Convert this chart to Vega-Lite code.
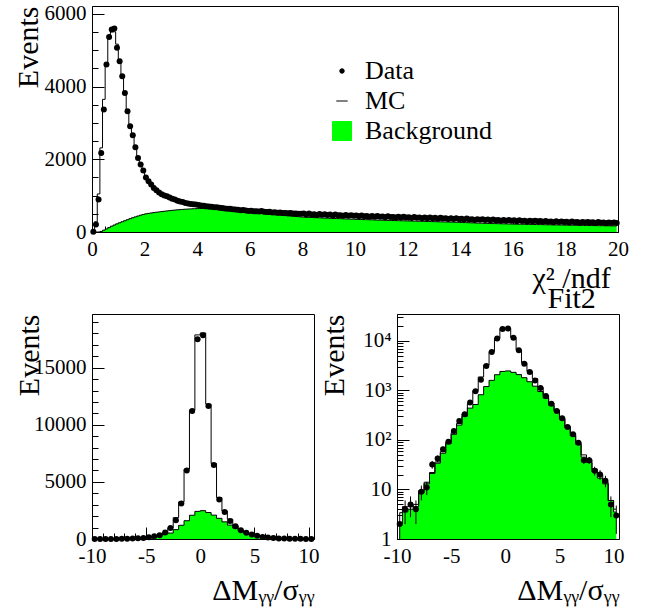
{
"$schema": "https://vega.github.io/schema/vega-lite/v6.json",
"background": "white",
"padding": {"left": 12, "top": 2, "right": 5, "bottom": 3},
"config": {
  "font": "Liberation Serif",
  "view": {"stroke": "black", "strokeWidth": 1},
  "axis": {"labelFont": "Liberation Serif", "labelFontSize": 21, "labelColor": "black", "titleFont": "Liberation Serif", "titleFontSize": 30, "titleFontWeight": "normal", "titleColor": "black", "tickColor": "black", "domainColor": "black", "grid": false, "labelFlush": false, "labelOverlap": false, "zindex": 1, "format": "d"},
  "legend": {"labelFont": "Liberation Serif", "labelFontSize": 26, "labelColor": "black"}
},
"datasets": {
"top": [
{"x":0.05,"d":10,"m":40,"b":0},{"x":0.15,"d":204,"m":280,"b":0},{"x":0.25,"d":893,"m":1047,"b":0},{"x":0.35,"d":2177,"m":2315,"b":15},{"x":0.45,"d":3372,"m":3650,"b":50},{"x":0.55,"d":4611,"m":4620,"b":85},{"x":0.65,"d":5364,"m":5390,"b":122},{"x":0.75,"d":5576,"m":5510,"b":160},{"x":0.85,"d":5603,"m":5510,"b":192},{"x":0.95,"d":5069,"m":5170,"b":224},
{"x":1.05,"d":4702,"m":4750,"b":254},{"x":1.15,"d":4289,"m":4310,"b":282},{"x":1.25,"d":3829,"m":3820,"b":310},{"x":1.35,"d":3325,"m":3360,"b":338},{"x":1.45,"d":2912,"m":2950,"b":366},{"x":1.55,"d":2664,"m":2640,"b":392},{"x":1.65,"d":2333,"m":2350,"b":416},{"x":1.75,"d":2039,"m":2060,"b":440},{"x":1.85,"d":1856,"m":1860,"b":462},{"x":1.95,"d":1691,"m":1680,"b":482},
{"x":2.05,"d":1500,"m":1510,"b":500},{"x":2.15,"d":1400,"m":1390,"b":512},{"x":2.25,"d":1305,"m":1300,"b":523},{"x":2.35,"d":1212,"m":1225,"b":534},{"x":2.45,"d":1150,"m":1160,"b":544},{"x":2.55,"d":1085,"m":1095,"b":553},{"x":2.65,"d":1040,"m":1045,"b":562},{"x":2.75,"d":1005,"m":1005,"b":571},{"x":2.85,"d":983,"m":975,"b":580},{"x":2.95,"d":950,"m":945,"b":588},
{"x":3.05,"d":912,"m":918,"b":596},{"x":3.15,"d":892,"m":893,"b":603},{"x":3.25,"d":862,"m":870,"b":610},{"x":3.35,"d":838,"m":850,"b":616},{"x":3.45,"d":826,"m":830,"b":622},{"x":3.55,"d":800,"m":812,"b":627},{"x":3.65,"d":785,"m":796,"b":632},{"x":3.75,"d":771,"m":781,"b":636},{"x":3.85,"d":762,"m":767,"b":640},{"x":3.95,"d":754,"m":754,"b":643},
{"x":4.05,"d":742,"m":742,"b":645},{"x":4.15,"d":727,"m":731,"b":646},{"x":4.25,"d":722,"m":720,"b":645},{"x":4.35,"d":708,"m":710,"b":642},{"x":4.45,"d":700,"m":700,"b":638},{"x":4.55,"d":696,"m":691,"b":633},{"x":4.65,"d":680,"m":682,"b":627},{"x":4.75,"d":684,"m":674,"b":620},{"x":4.85,"d":668,"m":666,"b":613},{"x":4.95,"d":661,"m":658,"b":605},
{"x":5.05,"d":650,"m":650,"b":598},{"x":5.15,"d":643,"m":643,"b":591},{"x":5.25,"d":640,"m":636,"b":584},{"x":5.35,"d":625,"m":629,"b":577},{"x":5.45,"d":617,"m":622,"b":570},{"x":5.55,"d":610,"m":615,"b":563},{"x":5.65,"d":598,"m":608,"b":556},{"x":5.75,"d":605,"m":602,"b":549},{"x":5.85,"d":590,"m":596,"b":542},{"x":5.95,"d":578,"m":590,"b":535},
{"x":6.05,"d":585,"m":584,"b":529},{"x":6.15,"d":573,"m":578,"b":523},{"x":6.25,"d":570,"m":572,"b":517},{"x":6.35,"d":566,"m":567,"b":511},{"x":6.45,"d":575,"m":562,"b":505},{"x":6.55,"d":558,"m":557,"b":499},{"x":6.65,"d":552,"m":552,"b":493},{"x":6.75,"d":560,"m":548,"b":487},{"x":6.85,"d":540,"m":544,"b":481},{"x":6.95,"d":545,"m":540,"b":475},
{"x":7.05,"d":532,"m":536,"b":469},{"x":7.15,"d":538,"m":532,"b":463},{"x":7.25,"d":524,"m":528,"b":457},{"x":7.35,"d":526,"m":524,"b":451},{"x":7.45,"d":515,"m":520,"b":445},{"x":7.55,"d":520,"m":516,"b":439},{"x":7.65,"d":508,"m":512,"b":433},{"x":7.75,"d":512,"m":508,"b":427},{"x":7.85,"d":500,"m":504,"b":421},{"x":7.95,"d":505,"m":500,"b":415},
{"x":8.05,"d":507,"m":499,"b":409},{"x":8.15,"d":484,"m":496,"b":405},{"x":8.25,"d":508,"m":493,"b":402},{"x":8.35,"d":485,"m":490,"b":400},{"x":8.45,"d":491,"m":488,"b":396},{"x":8.55,"d":471,"m":485,"b":392},{"x":8.65,"d":492,"m":482,"b":390},{"x":8.75,"d":472,"m":479,"b":386},{"x":8.85,"d":488,"m":476,"b":383},{"x":8.95,"d":470,"m":473,"b":380},
{"x":9.05,"d":479,"m":471,"b":377},{"x":9.15,"d":456,"m":468,"b":374},{"x":9.25,"d":481,"m":466,"b":372},{"x":9.35,"d":458,"m":463,"b":369},{"x":9.45,"d":463,"m":460,"b":366},{"x":9.55,"d":444,"m":458,"b":363},{"x":9.65,"d":465,"m":455,"b":360},{"x":9.75,"d":446,"m":453,"b":357},{"x":9.85,"d":462,"m":450,"b":354},{"x":9.95,"d":444,"m":447,"b":351},
{"x":10.05,"d":453,"m":445,"b":349},{"x":10.15,"d":431,"m":443,"b":346},{"x":10.25,"d":455,"m":440,"b":344},{"x":10.35,"d":433,"m":438,"b":341},{"x":10.45,"d":438,"m":435,"b":339},{"x":10.55,"d":419,"m":433,"b":336},{"x":10.65,"d":440,"m":430,"b":334},{"x":10.75,"d":421,"m":428,"b":331},{"x":10.85,"d":438,"m":426,"b":329},{"x":10.95,"d":420,"m":423,"b":326},
{"x":11.05,"d":429,"m":421,"b":324},{"x":11.15,"d":407,"m":419,"b":322},{"x":11.25,"d":432,"m":417,"b":320},{"x":11.35,"d":410,"m":415,"b":318},{"x":11.45,"d":416,"m":413,"b":316},{"x":11.55,"d":397,"m":411,"b":314},{"x":11.65,"d":419,"m":409,"b":312},{"x":11.75,"d":400,"m":407,"b":310},{"x":11.85,"d":417,"m":405,"b":308},{"x":11.95,"d":400,"m":403,"b":306},
{"x":12.05,"d":409,"m":401,"b":304},{"x":12.15,"d":387,"m":399,"b":302},{"x":12.25,"d":412,"m":397,"b":300},{"x":12.35,"d":390,"m":395,"b":298},{"x":12.45,"d":396,"m":393,"b":296},{"x":12.55,"d":377,"m":391,"b":294},{"x":12.65,"d":399,"m":389,"b":292},{"x":12.75,"d":380,"m":387,"b":290},{"x":12.85,"d":397,"m":385,"b":288},{"x":12.95,"d":380,"m":383,"b":286},
{"x":13.05,"d":389,"m":381,"b":284},{"x":13.15,"d":367,"m":379,"b":282},{"x":13.25,"d":392,"m":377,"b":280},{"x":13.35,"d":370,"m":375,"b":278},{"x":13.45,"d":376,"m":373,"b":276},{"x":13.55,"d":357,"m":371,"b":274},{"x":13.65,"d":379,"m":369,"b":272},{"x":13.75,"d":360,"m":367,"b":270},{"x":13.85,"d":377,"m":365,"b":268},{"x":13.95,"d":360,"m":363,"b":266},
{"x":14.05,"d":368,"m":360,"b":263},{"x":14.15,"d":345,"m":357,"b":260},{"x":14.25,"d":370,"m":355,"b":258},{"x":14.35,"d":347,"m":352,"b":255},{"x":14.45,"d":352,"m":349,"b":252},{"x":14.55,"d":333,"m":347,"b":249},{"x":14.65,"d":354,"m":344,"b":246},{"x":14.75,"d":334,"m":341,"b":244},{"x":14.85,"d":351,"m":339,"b":241},{"x":14.95,"d":333,"m":336,"b":238},
{"x":15.05,"d":342,"m":334,"b":236},{"x":15.15,"d":320,"m":332,"b":234},{"x":15.25,"d":345,"m":330,"b":232},{"x":15.35,"d":323,"m":328,"b":231},{"x":15.45,"d":329,"m":326,"b":229},{"x":15.55,"d":310,"m":324,"b":227},{"x":15.65,"d":331,"m":321,"b":225},{"x":15.75,"d":312,"m":319,"b":224},{"x":15.85,"d":329,"m":317,"b":222},{"x":15.95,"d":312,"m":315,"b":220},
{"x":16.05,"d":321,"m":313,"b":218},{"x":16.15,"d":299,"m":311,"b":217},{"x":16.25,"d":324,"m":309,"b":215},{"x":16.35,"d":302,"m":307,"b":213},{"x":16.45,"d":308,"m":305,"b":212},{"x":16.55,"d":290,"m":304,"b":210},{"x":16.65,"d":312,"m":302,"b":209},{"x":16.75,"d":293,"m":300,"b":207},{"x":16.85,"d":310,"m":298,"b":206},{"x":16.95,"d":293,"m":296,"b":204},
{"x":17.05,"d":302,"m":294,"b":203},{"x":17.15,"d":280,"m":292,"b":202},{"x":17.25,"d":305,"m":290,"b":200},{"x":17.35,"d":284,"m":289,"b":199},{"x":17.45,"d":290,"m":287,"b":197},{"x":17.55,"d":271,"m":285,"b":196},{"x":17.65,"d":293,"m":283,"b":195},{"x":17.75,"d":274,"m":281,"b":193},{"x":17.85,"d":292,"m":280,"b":192},{"x":17.95,"d":275,"m":278,"b":191},
{"x":18.05,"d":284,"m":276,"b":189},{"x":18.15,"d":263,"m":275,"b":188},{"x":18.25,"d":288,"m":273,"b":187},{"x":18.35,"d":267,"m":272,"b":186},{"x":18.45,"d":273,"m":270,"b":184},{"x":18.55,"d":255,"m":269,"b":183},{"x":18.65,"d":277,"m":267,"b":182},{"x":18.75,"d":259,"m":266,"b":181},{"x":18.85,"d":276,"m":264,"b":179},{"x":18.95,"d":260,"m":263,"b":178},
{"x":19.05,"d":269,"m":261,"b":177},{"x":19.15,"d":248,"m":260,"b":176},{"x":19.25,"d":274,"m":259,"b":175},{"x":19.35,"d":252,"m":257,"b":174},{"x":19.45,"d":259,"m":256,"b":173},{"x":19.55,"d":241,"m":255,"b":172},{"x":19.65,"d":263,"m":253,"b":170},{"x":19.75,"d":245,"m":252,"b":169},{"x":19.85,"d":263,"m":251,"b":168},{"x":19.95,"d":246,"m":249,"b":167}
],
"bot": [
{"x":-9.75,"d":2,"m":3.4,"b":2,"lo":0.59,"hi":3.41},{"x":-9.25,"d":4,"m":4.5,"b":3.5,"lo":2,"hi":6},{"x":-8.75,"d":5,"m":4.5,"b":4,"lo":2.76,"hi":7.24},{"x":-8.25,"d":4,"m":5,"b":4.5,"lo":2,"hi":6},{"x":-7.75,"d":9,"m":9.5,"b":8.5,"lo":6,"hi":12},{"x":-7.25,"d":11,"m":14,"b":13,"lo":7.7,"hi":14.3},{"x":-6.75,"d":32,"m":22,"b":21,"lo":26.3,"hi":37.7},{"x":-6.25,"d":42,"m":36,"b":34,"lo":35.5,"hi":48.5},{"x":-5.75,"d":65,"m":58,"b":54,"lo":56.9,"hi":73.1},{"x":-5.25,"d":92,"m":90,"b":84,"lo":82.4,"hi":101.6},
{"x":-4.75,"d":152,"m":140,"b":130,"lo":139.7,"hi":164.3},{"x":-4.25,"d":241,"m":215,"b":200,"lo":225.5,"hi":256.5},{"x":-3.75,"d":330,"m":335,"b":300,"lo":311.8,"hi":348.2},{"x":-3.25,"d":570,"m":540,"b":440,"lo":546,"hi":594},{"x":-2.75,"d":960,"m":990,"b":520,"lo":929,"hi":991},{"x":-2.25,"d":1650,"m":1870,"b":820,"lo":1609,"hi":1691},{"x":-1.75,"d":3100,"m":3250,"b":1200,"lo":3044,"hi":3156},{"x":-1.25,"d":6000,"m":6110,"b":1600,"lo":5922,"hi":6078},{"x":-0.75,"d":11200,"m":11290,"b":2080,"lo":11094,"hi":11306},{"x":-0.25,"d":17500,"m":17870,"b":2420,"lo":17368,"hi":17632},
{"x":0.25,"d":17850,"m":18040,"b":2480,"lo":17716,"hi":17984},{"x":0.75,"d":11650,"m":11810,"b":2320,"lo":11542,"hi":11758},{"x":1.25,"d":6480,"m":6610,"b":2090,"lo":6400,"hi":6560},{"x":1.75,"d":3450,"m":3620,"b":1810,"lo":3391,"hi":3509},{"x":2.25,"d":2370,"m":2450,"b":1500,"lo":2321,"hi":2419},{"x":2.75,"d":1580,"m":1730,"b":1220,"lo":1540,"hi":1620},{"x":3.25,"d":1120,"m":1150,"b":950,"lo":1086,"hi":1154},{"x":3.75,"d":770,"m":790,"b":700,"lo":742,"hi":798},{"x":4.25,"d":540,"m":560,"b":500,"lo":517,"hi":563},{"x":4.75,"d":385,"m":400,"b":380,"lo":365,"hi":405},
{"x":5.25,"d":275,"m":280,"b":265,"lo":258,"hi":292},{"x":5.75,"d":183,"m":190,"b":175,"lo":169.5,"hi":196.5},{"x":6.25,"d":130,"m":135,"b":122,"lo":118.6,"hi":141.4},{"x":6.75,"d":88,"m":90,"b":82,"lo":78.6,"hi":97.4},{"x":7.25,"d":39,"m":50,"b":45,"lo":32.8,"hi":45.2},{"x":7.75,"d":39,"m":40,"b":35,"lo":32.8,"hi":45.2},{"x":8.25,"d":24,"m":26,"b":23,"lo":19.1,"hi":28.9},{"x":8.75,"d":20,"m":20,"b":17,"lo":15.5,"hi":24.5},{"x":9.25,"d":15,"m":14,"b":13,"lo":11.1,"hi":18.9},{"x":9.75,"d":5,"m":6,"b":6,"lo":2.76,"hi":7.24},{"x":10.25,"d":3,"m":4,"b":3.5,"lo":1.27,"hi":4.73}
]
},
"vconcat": [
{
  "width": 526, "height": 226,
  "data": {"name": "top"},
  "layer": [
    {"mark": {"type": "area", "interpolate": "step"},
     "encoding": {
       "x": {"field": "x", "type": "quantitative", "scale": {"domain": [0, 20], "nice": false},
             "axis": {"values": [0,2,4,6,8,10,12,14,16,18,20], "tickSize": -12, "labelPadding": 18, "labelFont": "Liberation Serif", "title": ["χ² /ndf", "\u200b\u2002Fit2"], "titleX": 440, "titleAlign": "left", "titleAnchor": "end", "titlePadding": 4, "titleLineHeight": 20}},
       "y": {"field": "b", "type": "quantitative", "scale": {"domain": [0, 6220], "nice": false},
             "axis": {"values": [0,2000,4000,6000], "tickSize": -12, "labelPadding": 18, "labelFont": "Liberation Serif", "title": "Events", "titleAnchor": "end", "titleBaseline": "alphabetic", "titleX": -55}},
       "color": {"datum": "Background", "scale": {"domain": ["Data", "MC", "Background"], "range": ["black", "black", "#00ff00"]},
                 "legend": {"title": null, "orient": "none", "legendX": 237, "legendY": 52, "labelOffset": 10, "rowPadding": 4, "labelFont": "Liberation Serif",
                            "encode": {"symbols": {"update": {
                               "shape": {"signal": "datum.value == 'Data' ? 'circle' : datum.value == 'MC' ? 'stroke' : 'square'"},
                               "size": {"signal": "datum.value == 'Data' ? 20 : datum.value == 'MC' ? 130 : 361"},
                               "fill": {"signal": "datum.value == 'Background' ? '#00ff00' : 'black'"},
                               "stroke": {"value": "black"}, "strokeWidth": {"value": 1}, "opacity": {"value": 1}}}}}}
     }},
    {"mark": {"type": "line", "interpolate": "step", "color": "black", "strokeWidth": 1},
     "encoding": {
       "x": {"field": "x", "type": "quantitative",
             "axis": {"values": [1,3,5,7,9,11,13,15,17,19,0.5,1.5,2.5,3.5,4.5,5.5,6.5,7.5,8.5,9.5,10.5,11.5,12.5,13.5,14.5,15.5,16.5,17.5,18.5,19.5], "tickSize": -6, "labels": false, "domain": false, "title": null, "orient": "bottom"}},
       "y": {"field": "b", "type": "quantitative",
             "axis": {"values": [500,1000,1500,2500,3000,3500,4500,5000,5500], "tickSize": -6, "labels": false, "domain": false, "title": null, "orient": "left"}}
     }},
    {"mark": {"type": "line", "interpolate": "step", "strokeWidth": 1},
     "encoding": {
       "x": {"field": "x", "type": "quantitative", "axis": null},
       "y": {"field": "m", "type": "quantitative", "axis": null},
       "color": {"datum": "MC"}
     }},
    {"mark": {"type": "point", "filled": true, "size": 36, "opacity": 1},
     "encoding": {
       "x": {"field": "x", "type": "quantitative", "axis": null},
       "y": {"field": "d", "type": "quantitative", "axis": null},
       "color": {"datum": "Data"}
     }}
  ],
  "resolve": {"axis": {"x": "independent", "y": "independent"}}
},
{
  "hconcat": [
    {
      "width": 222, "height": 225,
      "data": {"name": "bot"},
      "layer": [
        {"mark": {"type": "area", "interpolate": "step", "color": "#00ff00"},
         "encoding": {
           "x": {"field": "x", "type": "quantitative", "scale": {"domain": [-10, 10.5], "nice": false},
                 "axis": {"values": [-10,-5,0,5,10], "tickSize": -12, "labelPadding": 18, "labelFont": "Liberation Serif", "labelExpr": "'' + datum.value", "title": "ΔMᵧᵧ/σᵧᵧ", "titleAnchor": "end", "titleAlign": "right", "titlePadding": 9}},
           "y": {"field": "b", "type": "quantitative", "scale": {"domain": [0, 19700], "nice": false},
                 "axis": {"values": [0,5000,10000,15000], "tickSize": -12, "labelPadding": 18, "labelFont": "Liberation Serif", "title": "Events", "titleAnchor": "end", "titleBaseline": "alphabetic", "titleX": -54}}
         }},
        {"mark": {"type": "line", "interpolate": "step", "color": "black", "strokeWidth": 1},
         "encoding": {
           "x": {"field": "x", "type": "quantitative",
                 "axis": {"values": [-9,-8,-7,-6,-4,-3,-2,-1,1,2,3,4,6,7,8,9], "tickSize": -6, "labels": false, "domain": false, "title": null, "orient": "bottom"}},
           "y": {"field": "b", "type": "quantitative",
                 "axis": {"values": [1000,2000,3000,4000,6000,7000,8000,9000,11000,12000,13000,14000,16000,17000,18000,19000], "tickSize": -6, "labels": false, "domain": false, "title": null, "orient": "left"}}
         }},
        {"mark": {"type": "line", "interpolate": "step", "color": "black", "strokeWidth": 1},
         "encoding": {
           "x": {"field": "x", "type": "quantitative", "axis": null},
           "y": {"field": "m", "type": "quantitative", "axis": null}
         }},
        {"mark": {"type": "point", "filled": true, "size": 36, "opacity": 1, "color": "black"},
         "encoding": {
           "x": {"field": "x", "type": "quantitative", "axis": null},
           "y": {"field": "d", "type": "quantitative", "axis": null}
         }}
      ],
      "resolve": {"axis": {"x": "independent", "y": "independent"}}
    },
    {
      "width": 222, "height": 225,
      "data": {"name": "bot"},
      "layer": [
        {"mark": {"type": "area", "interpolate": "step", "color": "#00ff00"},
         "encoding": {
           "x": {"field": "x", "type": "quantitative", "scale": {"domain": [-10, 10.5], "nice": false},
                 "axis": {"values": [-10,-5,0,5,10], "tickSize": -12, "labelPadding": 18, "labelFont": "Liberation Serif", "labelExpr": "'' + datum.value", "title": "ΔMᵧᵧ/σᵧᵧ", "titleAnchor": "end", "titleAlign": "right", "titlePadding": 9}},
           "y": {"field": "b", "type": "quantitative", "scale": {"type": "log", "domain": [1, 35000], "nice": false},
                 "axis": {"values": [1,10,100,1000,10000], "tickSize": -12, "labelPadding": 18, "labelFont": "Liberation Serif", "labelExpr": "datum.value == 1 ? '1' : datum.value == 10 ? '10' : datum.value == 100 ? '10²' : datum.value == 1000 ? '10³' : '10⁴'", "title": "Events", "titleAnchor": "end", "titleBaseline": "alphabetic", "titleX": -54}},
           "y2": {"datum": 1}
         }},
        {"mark": {"type": "line", "interpolate": "step", "color": "black", "strokeWidth": 1},
         "encoding": {
           "x": {"field": "x", "type": "quantitative",
                 "axis": {"values": [-9,-8,-7,-6,-4,-3,-2,-1,1,2,3,4,6,7,8,9], "tickSize": -6, "labels": false, "domain": false, "title": null, "orient": "bottom"}},
           "y": {"field": "b", "type": "quantitative",
                 "axis": {"values": [2,3,4,5,6,7,8,9,20,30,40,50,60,70,80,90,200,300,400,500,600,700,800,900,2000,3000,4000,5000,6000,7000,8000,9000,20000,30000], "tickSize": -6, "labels": false, "domain": false, "title": null, "orient": "left"}}
         }},
        {"mark": {"type": "line", "interpolate": "step", "color": "black", "strokeWidth": 1},
         "encoding": {
           "x": {"field": "x", "type": "quantitative", "axis": null},
           "y": {"field": "m", "type": "quantitative", "axis": null}
         }},
        {"mark": {"type": "rule", "color": "black", "strokeWidth": 1, "clip": true},
         "encoding": {
           "x": {"field": "x", "type": "quantitative", "axis": null},
           "y": {"field": "lo", "type": "quantitative", "axis": null},
           "y2": {"field": "hi"}
         }},
        {"mark": {"type": "point", "filled": true, "size": 36, "opacity": 1, "color": "black"},
         "encoding": {
           "x": {"field": "x", "type": "quantitative", "axis": null},
           "y": {"field": "d", "type": "quantitative", "axis": null}
         }}
      ],
      "resolve": {"axis": {"x": "independent", "y": "independent"}}
    }
  ],
  "spacing": 83,
  "bounds": "flush"
}
],
"spacing": 82,
"bounds": "flush"
}
